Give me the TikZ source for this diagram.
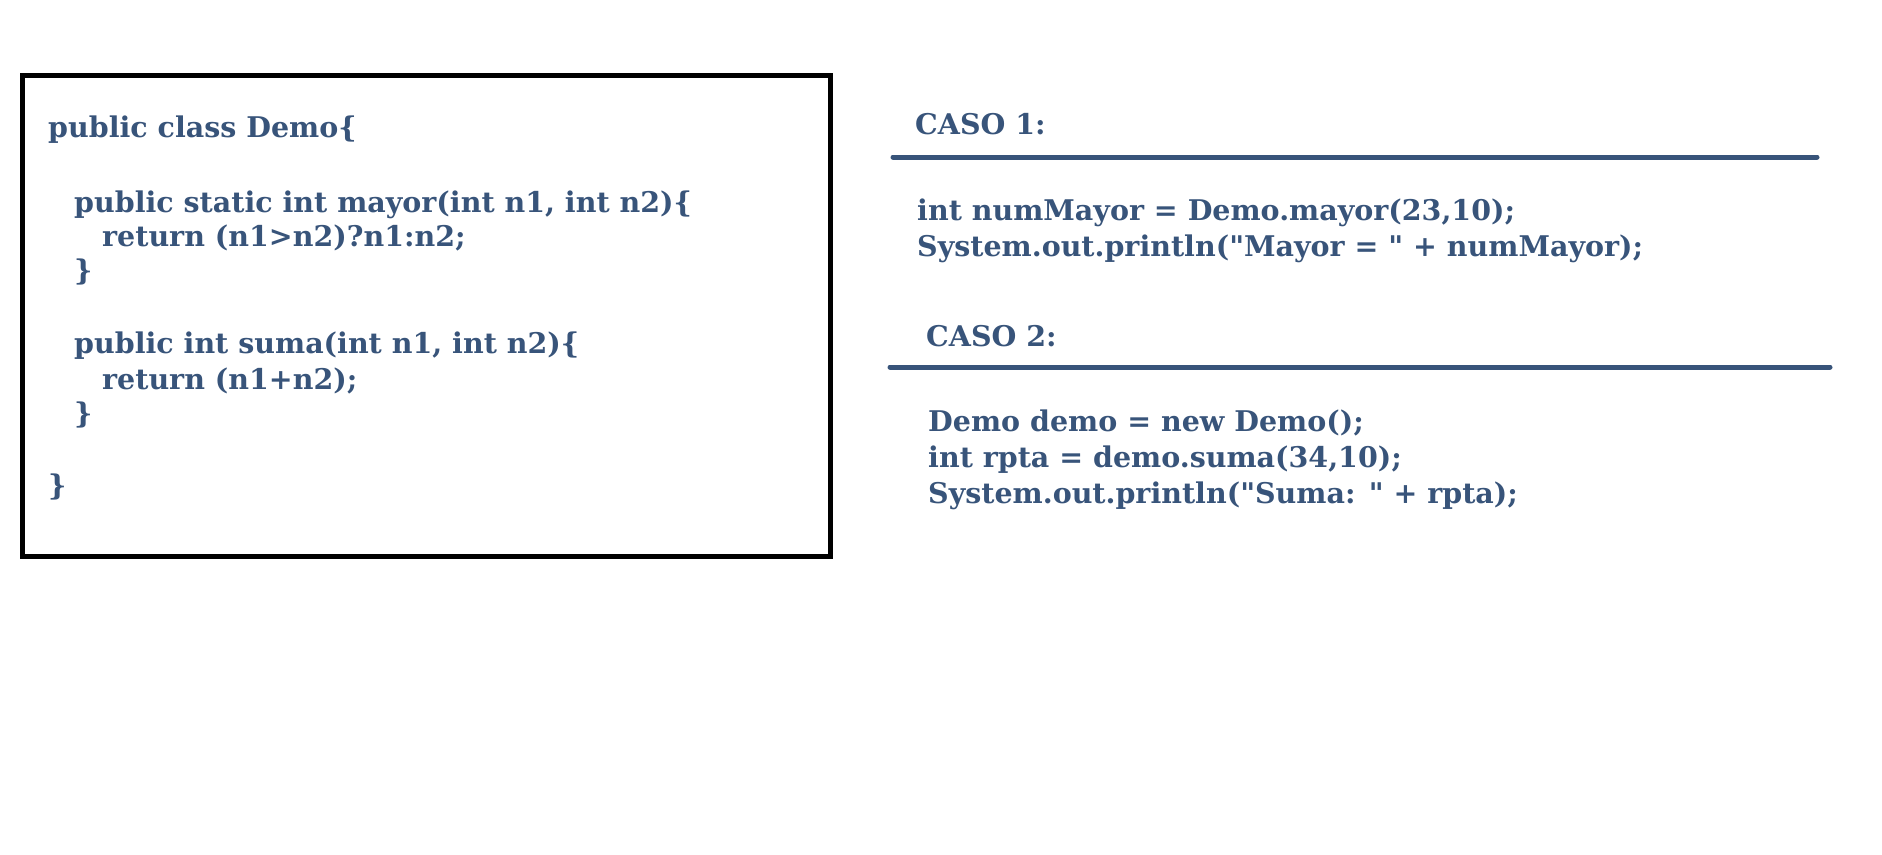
\documentclass[tikz,border=0pt]{standalone}
\usepackage{fontspec}
\setmainfont{DejaVu Serif}[Ligatures=TeXOff]
\definecolor{codeblue}{HTML}{38547A}
\begin{document}
\begin{tikzpicture}[x=1pt,y=-1pt,
  code/.style={anchor=base west,inner sep=0pt,text=codeblue,font=\fontsize{28.5}{34}\selectfont\bfseries},
  rule/.style={draw=codeblue,line width=5pt,line cap=round}]
\useasboundingbox (0,0) rectangle (1882,854);
\node[draw=black,line width=5pt,minimum width=808pt,minimum height=481pt,anchor=north west,inner sep=0pt] (box) at (20,73) {};
\node[code] (l1) at (48,137) {public class Demo\{};
\node[code] (l2) at (74,212) {public static int mayor(int n1, int n2)\{};
\node[code] (l3) at (102,246) {return (n1>n2)?n1:n2;};
\node[code] (l4) at (74,280) {\}};
\node[code] (l5) at (74,353) {public int suma(int n1, int n2)\{};
\node[code] (l6) at (102,389) {return (n1+n2);};
\node[code] (l7) at (74,423) {\}};
\node[code] (l8) at (48,495) {\}};
\node[code] (c1) at (915,134) {CASO 1:};
\coordinate (r1a) at (893,157);
\coordinate (r1b) at (1817,157);
\draw[rule] (r1a) -- (r1b);
\node[code] (c1a) at (917,220) {int numMayor = Demo.mayor(23,10);};
\node[code] (c1b) at (917,256) {System.out.println("Mayor = " + numMayor);};
\node[code] (c2) at (926,346) {CASO 2:};
\coordinate (r2a) at (890,367);
\coordinate (r2b) at (1830,367);
\draw[rule] (r2a) -- (r2b);
\node[code] (c2a) at (928,431) {Demo demo = new Demo();};
\node[code] (c2b) at (928,467) {int rpta = demo.suma(34,10);};
\node[code] (c2c) at (928,503) {System.out.println("Suma: " + rpta);};
\end{tikzpicture}
\end{document}
